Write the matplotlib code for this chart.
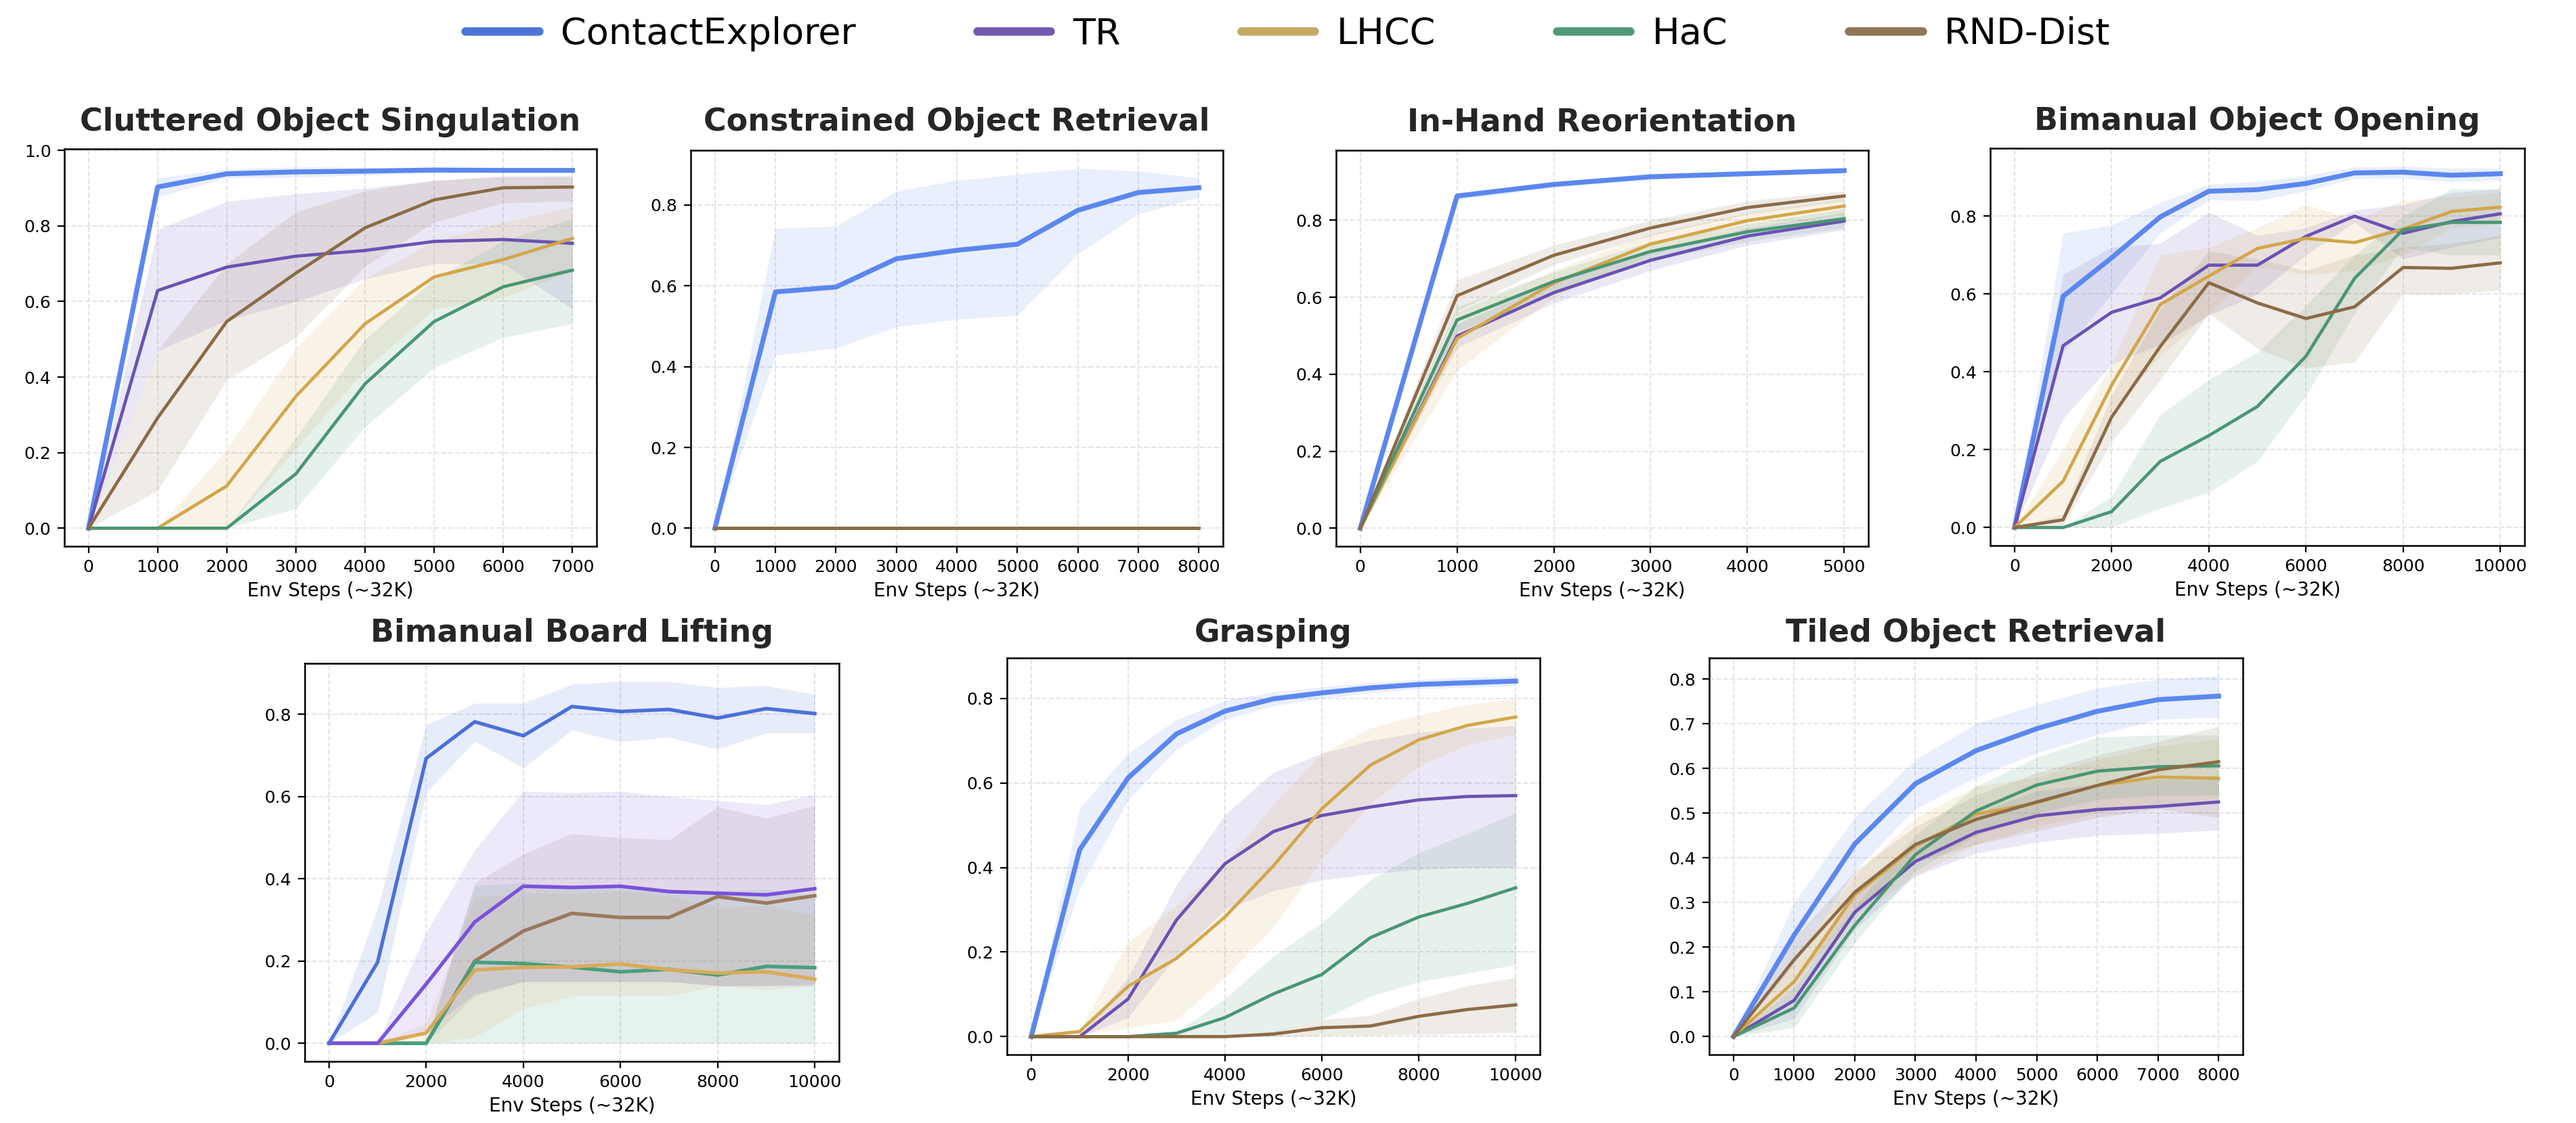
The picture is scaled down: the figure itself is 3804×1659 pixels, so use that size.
"""
Success-rate curves for seven manipulation tasks, five methods each.
Mean line plus shaded band (lo/hi), shared legend on top.
"""
import matplotlib.pyplot as plt
from matplotlib.lines import Line2D
from matplotlib.ticker import MultipleLocator

methods = ["ContactExplorer", "TR", "LHCC", "HaC", "RND-Dist"]

# ---------------- Cluttered Object Singulation ----------------
cos_steps = [0, 1000, 2000, 3000, 4000, 5000, 6000, 7000]
cos_mean = {
    "ContactExplorer": [0, 0.903, 0.938, 0.943, 0.945, 0.948, 0.947, 0.947],
    "TR": [0, 0.629, 0.691, 0.720, 0.735, 0.759, 0.764, 0.754],
    "LHCC": [0, 0, 0.112, 0.349, 0.541, 0.665, 0.711, 0.767],
    "HaC": [0, 0, 0, 0.144, 0.382, 0.547, 0.639, 0.683],
    "RND-Dist": [0, 0.292, 0.547, 0.675, 0.795, 0.869, 0.901, 0.903],
}
cos_lo = {
    "ContactExplorer": [0, 0.877, 0.927, 0.929, 0.935, 0.940, 0.943, 0.944],
    "TR": [0, 0.469, 0.55, 0.60, 0.66, 0.70, 0.70, 0.58],
    "LHCC": [0, 0, 0, 0.21, 0.42, 0.58, 0.61, 0.68],
    "HaC": [0, 0, 0, 0.052, 0.268, 0.425, 0.505, 0.541],
    "RND-Dist": [0, 0.10, 0.393, 0.505, 0.693, 0.81, 0.861, 0.865],
}
cos_hi = {
    "ContactExplorer": [0, 0.927, 0.95, 0.956, 0.955, 0.952, 0.95, 0.95],
    "TR": [0, 0.79, 0.865, 0.885, 0.90, 0.92, 0.93, 0.93],
    "LHCC": [0, 0, 0.208, 0.477, 0.66, 0.76, 0.81, 0.85],
    "HaC": [0, 0, 0, 0.24, 0.50, 0.66, 0.76, 0.82],
    "RND-Dist": [0, 0.47, 0.70, 0.837, 0.893, 0.92, 0.933, 0.933],
}

# ---------------- Constrained Object Retrieval ----------------
cor_steps = [0, 1000, 2000, 3000, 4000, 5000, 6000, 7000, 8000]
cor_mean = {
    "ContactExplorer": [0, 0.585, 0.597, 0.667, 0.688, 0.703, 0.787, 0.831, 0.843],
    "TR": [0, 0, 0, 0, 0, 0, 0, 0, 0],
    "LHCC": [0, 0, 0, 0, 0, 0, 0, 0, 0],
    "HaC": [0, 0, 0, 0, 0, 0, 0, 0, 0],
    "RND-Dist": [0, 0, 0, 0, 0, 0, 0, 0, 0],
}
cor_lo = {
    "ContactExplorer": [0, 0.428, 0.446, 0.499, 0.517, 0.527, 0.679, 0.778, 0.819],
    "TR": [0, 0, 0, 0, 0, 0, 0, 0, 0],
    "LHCC": [0, 0, 0, 0, 0, 0, 0, 0, 0],
    "HaC": [0, 0, 0, 0, 0, 0, 0, 0, 0],
    "RND-Dist": [0, 0, 0, 0, 0, 0, 0, 0, 0],
}
cor_hi = {
    "ContactExplorer": [0, 0.742, 0.748, 0.834, 0.861, 0.876, 0.891, 0.884, 0.867],
    "TR": [0, 0, 0, 0, 0, 0, 0, 0, 0],
    "LHCC": [0, 0, 0, 0, 0, 0, 0, 0, 0],
    "HaC": [0, 0, 0, 0, 0, 0, 0, 0, 0],
    "RND-Dist": [0, 0, 0, 0, 0, 0, 0, 0, 0],
}

# ---------------- In-Hand Reorientation ----------------
ihr_steps = [0, 1000, 2000, 3000, 4000, 5000]
ihr_mean = {
    "ContactExplorer": [0, 0.863, 0.893, 0.913, 0.921, 0.929],
    "TR": [0, 0.499, 0.612, 0.696, 0.759, 0.798],
    "LHCC": [0, 0.493, 0.637, 0.738, 0.799, 0.837],
    "HaC": [0, 0.541, 0.641, 0.719, 0.770, 0.804],
    "RND-Dist": [0, 0.604, 0.709, 0.780, 0.833, 0.863],
}
ihr_lo = {
    "ContactExplorer": [0, 0.853, 0.885, 0.906, 0.915, 0.922],
    "TR": [0, 0.469, 0.585, 0.67, 0.735, 0.775],
    "LHCC": [0, 0.41, 0.60, 0.71, 0.775, 0.815],
    "HaC": [0, 0.51, 0.615, 0.695, 0.745, 0.78],
    "RND-Dist": [0, 0.565, 0.685, 0.76, 0.815, 0.85],
}
ihr_hi = {
    "ContactExplorer": [0, 0.871, 0.9, 0.919, 0.927, 0.935],
    "TR": [0, 0.53, 0.64, 0.72, 0.78, 0.82],
    "LHCC": [0, 0.56, 0.67, 0.765, 0.82, 0.858],
    "HaC": [0, 0.575, 0.665, 0.745, 0.79, 0.83],
    "RND-Dist": [0, 0.645, 0.735, 0.80, 0.85, 0.876],
}

# ---------------- Bimanual Object Opening ----------------
boo_steps = [0, 1000, 2000, 3000, 4000, 5000, 6000, 7000, 8000, 9000, 10000]
boo_mean = {
    "ContactExplorer": [0, 0.594, 0.693, 0.798, 0.864, 0.868, 0.884, 0.911, 0.913, 0.905, 0.909],
    "TR": [0, 0.467, 0.553, 0.59, 0.674, 0.674, 0.748, 0.80, 0.756, 0.786, 0.806],
    "LHCC": [0, 0.119, 0.366, 0.573, 0.646, 0.717, 0.743, 0.732, 0.767, 0.812, 0.823],
    "HaC": [0, 0, 0.041, 0.17, 0.236, 0.311, 0.44, 0.64, 0.765, 0.784, 0.784],
    "RND-Dist": [0, 0.02, 0.284, 0.465, 0.629, 0.577, 0.537, 0.567, 0.668, 0.666, 0.68],
}
boo_lo = {
    "ContactExplorer": [0, 0.45, 0.60, 0.757, 0.842, 0.84, 0.865, 0.897, 0.898, 0.888, 0.893],
    "TR": [0, 0.28, 0.42, 0.47, 0.545, 0.60, 0.70, 0.784, 0.69, 0.72, 0.745],
    "LHCC": [0, 0.03, 0.30, 0.44, 0.55, 0.67, 0.65, 0.66, 0.70, 0.77, 0.78],
    "HaC": [0, 0, 0, 0.05, 0.09, 0.17, 0.34, 0.55, 0.72, 0.70, 0.70],
    "RND-Dist": [0, 0.005, 0.22, 0.38, 0.55, 0.46, 0.41, 0.425, 0.60, 0.60, 0.61],
}
boo_hi = {
    "ContactExplorer": [0, 0.756, 0.777, 0.835, 0.882, 0.889, 0.904, 0.926, 0.928, 0.923, 0.923],
    "TR": [0, 0.65, 0.72, 0.73, 0.81, 0.75, 0.77, 0.815, 0.83, 0.86, 0.87],
    "LHCC": [0, 0.20, 0.42, 0.70, 0.72, 0.77, 0.83, 0.79, 0.84, 0.85, 0.86],
    "HaC": [0, 0, 0.08, 0.29, 0.38, 0.45, 0.57, 0.70, 0.80, 0.87, 0.87],
    "RND-Dist": [0, 0.035, 0.34, 0.56, 0.71, 0.69, 0.66, 0.70, 0.72, 0.73, 0.75],
}

# ---------------- Bimanual Board Lifting ----------------
bbl_steps = [0, 1000, 2000, 3000, 4000, 5000, 6000, 7000, 8000, 9000, 10000]
bbl_mean = {
    "ContactExplorer": [0, 0.197, 0.693, 0.782, 0.748, 0.819, 0.807, 0.812, 0.791, 0.814, 0.802],
    "TR": [0, 0, 0.144, 0.295, 0.382, 0.379, 0.382, 0.369, 0.365, 0.361, 0.376],
    "LHCC": [0, 0, 0.025, 0.178, 0.185, 0.186, 0.193, 0.179, 0.171, 0.174, 0.156],
    "HaC": [0, 0, 0, 0.197, 0.194, 0.185, 0.174, 0.18, 0.166, 0.187, 0.184],
    "RND-Dist": [0, 0, 0, 0.2, 0.273, 0.316, 0.306, 0.306, 0.357, 0.341, 0.359],
}
bbl_lo = {
    "ContactExplorer": [0, 0.075, 0.61, 0.735, 0.67, 0.762, 0.733, 0.745, 0.715, 0.755, 0.755],
    "TR": [0, 0, 0.03, 0.12, 0.15, 0.15, 0.15, 0.15, 0.14, 0.14, 0.14],
    "LHCC": [0, 0, 0, 0.015, 0.085, 0.115, 0.115, 0.115, 0.14, 0.13, 0.14],
    "HaC": [0, 0, 0, 0, 0, 0, 0, 0, 0, 0, 0],
    "RND-Dist": [0, 0, 0, 0.115, 0.15, 0.15, 0.15, 0.15, 0.14, 0.14, 0.145],
}
bbl_hi = {
    "ContactExplorer": [0, 0.328, 0.775, 0.827, 0.827, 0.873, 0.88, 0.88, 0.865, 0.87, 0.848],
    "TR": [0, 0, 0.27, 0.47, 0.613, 0.61, 0.613, 0.60, 0.59, 0.58, 0.605],
    "LHCC": [0, 0, 0.05, 0.355, 0.365, 0.365, 0.37, 0.36, 0.33, 0.335, 0.31],
    "HaC": [0, 0, 0, 0.384, 0.39, 0.385, 0.38, 0.375, 0.37, 0.375, 0.36],
    "RND-Dist": [0, 0, 0, 0.39, 0.46, 0.51, 0.50, 0.495, 0.575, 0.548, 0.578],
}

# ---------------- Grasping ----------------
gr_steps = [0, 1000, 2000, 3000, 4000, 5000, 6000, 7000, 8000, 9000, 10000]
gr_mean = {
    "ContactExplorer": [0, 0.442, 0.612, 0.716, 0.77, 0.799, 0.813, 0.825, 0.833, 0.837, 0.841],
    "TR": [0, 0, 0.089, 0.276, 0.409, 0.485, 0.523, 0.543, 0.56, 0.568, 0.57],
    "LHCC": [0, 0.012, 0.119, 0.185, 0.283, 0.404, 0.539, 0.642, 0.702, 0.736, 0.756],
    "HaC": [0, 0, 0, 0.008, 0.045, 0.101, 0.147, 0.234, 0.283, 0.315, 0.352],
    "RND-Dist": [0, 0, 0, 0, 0, 0.006, 0.021, 0.025, 0.048, 0.064, 0.075],
}
gr_lo = {
    "ContactExplorer": [0, 0.35, 0.56, 0.68, 0.75, 0.783, 0.80, 0.813, 0.823, 0.826, 0.83],
    "TR": [0, 0, 0.045, 0.19, 0.30, 0.345, 0.37, 0.385, 0.395, 0.40, 0.40],
    "LHCC": [0, 0.005, 0.02, 0.04, 0.14, 0.26, 0.42, 0.55, 0.64, 0.69, 0.715],
    "HaC": [0, 0, 0, 0, 0, 0.01, 0.04, 0.095, 0.13, 0.15, 0.17],
    "RND-Dist": [0, 0, 0, 0, 0, 0, 0.002, 0.003, 0.005, 0.007, 0.01],
}
gr_hi = {
    "ContactExplorer": [0, 0.54, 0.67, 0.75, 0.795, 0.815, 0.827, 0.837, 0.845, 0.85, 0.853],
    "TR": [0, 0, 0.14, 0.36, 0.525, 0.625, 0.67, 0.70, 0.72, 0.73, 0.735],
    "LHCC": [0, 0.015, 0.224, 0.31, 0.41, 0.55, 0.67, 0.73, 0.76, 0.785, 0.80],
    "HaC": [0, 0, 0, 0.01, 0.09, 0.19, 0.27, 0.37, 0.435, 0.48, 0.53],
    "RND-Dist": [0, 0, 0, 0, 0, 0.012, 0.04, 0.05, 0.09, 0.12, 0.14],
}

# ---------------- Tiled Object Retrieval ----------------
tor_steps = [0, 1000, 2000, 3000, 4000, 5000, 6000, 7000, 8000]
tor_mean = {
    "ContactExplorer": [0, 0.227, 0.431, 0.566, 0.640, 0.689, 0.728, 0.754, 0.762],
    "TR": [0, 0.081, 0.278, 0.392, 0.457, 0.494, 0.508, 0.515, 0.525],
    "LHCC": [0, 0.123, 0.317, 0.426, 0.498, 0.523, 0.562, 0.581, 0.578],
    "HaC": [0, 0.064, 0.249, 0.407, 0.505, 0.563, 0.594, 0.604, 0.606],
    "RND-Dist": [0, 0.172, 0.323, 0.43, 0.486, 0.525, 0.562, 0.597, 0.615],
}
tor_lo = {
    "ContactExplorer": [0, 0.16, 0.37, 0.51, 0.58, 0.635, 0.675, 0.71, 0.715],
    "TR": [0, 0.04, 0.24, 0.36, 0.41, 0.435, 0.45, 0.455, 0.462],
    "LHCC": [0, 0.08, 0.27, 0.36, 0.43, 0.47, 0.50, 0.52, 0.53],
    "HaC": [0, 0.02, 0.21, 0.37, 0.45, 0.50, 0.53, 0.54, 0.54],
    "RND-Dist": [0, 0.12, 0.28, 0.39, 0.43, 0.46, 0.49, 0.51, 0.49],
}
tor_hi = {
    "ContactExplorer": [0, 0.30, 0.49, 0.62, 0.70, 0.743, 0.78, 0.80, 0.807],
    "TR": [0, 0.12, 0.32, 0.43, 0.50, 0.55, 0.565, 0.575, 0.585],
    "LHCC": [0, 0.17, 0.36, 0.49, 0.56, 0.58, 0.62, 0.65, 0.665],
    "HaC": [0, 0.11, 0.29, 0.45, 0.56, 0.625, 0.67, 0.675, 0.675],
    "RND-Dist": [0, 0.22, 0.37, 0.47, 0.54, 0.59, 0.63, 0.66, 0.695],
}

# colours
colors = {"ContactExplorer": "#5B87EF", "TR": "#6A52B3", "LHCC": "#D2A64A",
          "HaC": "#4A9673", "RND-Dist": "#8B6B47"}
colors_bbl = {"ContactExplorer": "#4A70D9", "TR": "#7A52DB", "LHCC": "#D9AB58",
              "HaC": "#45A07E", "RND-Dist": "#9A7A5C"}
legend_colors = ["#4A74D8", "#735AB0", "#C6A862", "#519A78", "#907557"]

W, H, DPI = 3804, 1659, 200
fig = plt.figure(figsize=(W / DPI, H / DPI), dpi=DPI)


def box(left, right, top, bottom):
    # pixel box -> figure fraction
    return [left / W, 1 - bottom / H, (right - left) / W, (bottom - top) / H]


panels = [
    ("Cluttered Object Singulation", cos_steps, cos_mean, cos_lo, cos_hi,
     box(95, 881, 220, 807), 1000, 0.2, colors, False, 9.7),
    ("Constrained Object Retrieval", cor_steps, cor_mean, cor_lo, cor_hi,
     box(1020, 1806, 222, 807), 1000, 0.2, colors, False, 10.3),
    ("In-Hand Reorientation", ihr_steps, ihr_mean, ihr_lo, ihr_hi,
     box(1973, 2759, 222, 807), 1000, 0.2, colors, False, 10.3),
    ("Bimanual Object Opening", boo_steps, boo_mean, boo_lo, boo_hi,
     box(2939, 3728, 219, 806), 2000, 0.2, colors, False, 9.7),
    ("Bimanual Board Lifting", bbl_steps, bbl_mean, bbl_lo, bbl_hi,
     box(450, 1239, 980, 1568), 2000, 0.2, colors_bbl, True, 11.5),
    ("Grasping", gr_steps, gr_mean, gr_lo, gr_hi,
     box(1487, 2274, 972, 1558), 2000, 0.2, colors, False, 8.6),
    ("Tiled Object Retrieval", tor_steps, tor_mean, tor_lo, tor_hi,
     box(2524, 3312, 972, 1558), 1000, 0.1, colors, False, 8.6),
]

for title, steps, mean, lo, hi, pos, xstep, ystep, cols, flat, pad in panels:
    ax = fig.add_axes(pos)
    order = methods[::-1] if flat else methods
    for m in order:
        ax.fill_between(steps, lo[m], hi[m], color=cols[m], alpha=0.13, lw=0)
    for m in order:
        if flat:
            lw = 1.9
        else:
            lw = 2.6 if m == "ContactExplorer" else 1.7
        ax.plot(steps, mean[m], color=cols[m], lw=lw)
    ax.xaxis.set_major_locator(MultipleLocator(xstep))
    ax.yaxis.set_major_locator(MultipleLocator(ystep))
    ax.set_axisbelow(True)
    ax.grid(True, ls="--", color="#e4e4e4", lw=0.7)
    ax.tick_params(labelsize=9, length=3.5, width=0.8)
    for s in ax.spines.values():
        s.set_color("black")
        s.set_linewidth(0.9)
    ax.set_xlabel("Env Steps (~32K)", fontsize=10, labelpad=3)
    ax.set_title(title, fontsize=16.5, fontweight="bold", color="#262626", pad=pad)

handles = [Line2D([0], [0], color=c, lw=4.5, solid_capstyle="round")
           for c in legend_colors]
fig.legend(handles, methods, loc="center", bbox_to_anchor=(0.5, 1 - 50 / H),
           ncol=5, frameon=False, fontsize=19.5, handlelength=2,
           handletextpad=0.6, columnspacing=3.3)

fig.savefig("out.png", dpi=DPI)
